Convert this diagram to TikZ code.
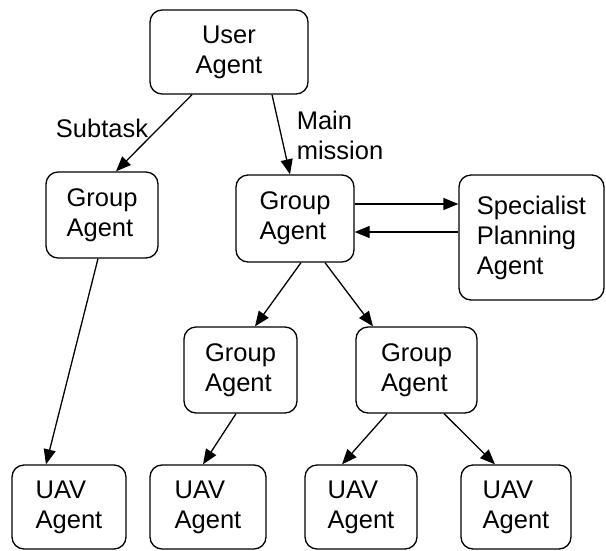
\documentclass[tikz,border=0pt]{standalone}
\usepackage{fontspec}
\setmainfont{Liberation Sans}
\usetikzlibrary{arrows.meta}
\begin{document}
\begin{tikzpicture}[x=1pt,y=-1pt,
  font=\fontsize{25.5pt}{30pt}\selectfont,
  agent/.style={draw,line width=1.3pt,rounded corners=12pt,inner sep=0pt,align=left},
  centred/.style={agent,align=center},
  link/.style={line width=1.3pt,-{Triangle[length=15pt,width=12pt]}},
  lbl/.style={inner sep=0pt}]
\useasboundingbox (0,0) rectangle (606,550);

% top level
\node[centred,minimum width=158pt,minimum height=84pt] (user) at (229,52) {User\\Agent};

% second level
\node[agent,minimum width=112pt,minimum height=86pt] (g1) at (102,215) {Group\\Agent};
\node[agent,minimum width=118pt,minimum height=87pt] (gm) at (295,218.5) {Group\\Agent};
\node[agent,minimum width=145pt,minimum height=125pt] (sp) at (531.5,237.5) {Specialist\\Planning\\Agent};

% third level
\node[agent,minimum width=113pt,minimum height=86pt] (gl) at (240.5,370) {Group\\Agent};
\node[agent,minimum width=121pt,minimum height=86pt] (gr) at (416.5,370) {Group\\Agent};

% UAV agents
\node[agent,minimum width=114pt,minimum height=84pt] (u1) at (69,507) {UAV\\Agent};
\node[agent,minimum width=116pt,minimum height=84pt] (u2) at (208,507) {UAV\\Agent};
\node[agent,minimum width=112pt,minimum height=84pt] (u3) at (361,507) {UAV\\Agent};
\node[agent,minimum width=110pt,minimum height=84pt] (u4) at (516,507) {UAV\\Agent};

% labels
\node[lbl] (subtask) at (102,128) {Subtask};
\node[lbl,align=left] (mainm) at (340,135) {Main\\mission};

% connectors (shifts are in page direction: positive yshift is upward)
\draw[link] ([xshift=-37pt]user.south) -- ([xshift=14pt]g1.north);
\draw[link] ([xshift=43pt]user.south) -- ([xshift=-5pt]gm.north);
\draw[link] ([yshift=14.5pt]gm.east) -- ([yshift=14.5pt]gm.east -| sp.west);
\draw[link] ([yshift=-13.5pt]gm.east -| sp.west) -- ([yshift=-13.5pt]gm.east);
\draw[link] ([xshift=6pt]gm.south) -- ([xshift=14.5pt]gl.north);
\draw[link] ([xshift=30pt]gm.south) -- ([xshift=-43.5pt]gr.north);
\draw[link] ([xshift=-4pt]g1.south) -- ([xshift=-23pt]u1.north);
\draw[link] ([xshift=-4.5pt]gl.south) -- ([xshift=-5pt]u2.north);
\draw[link] ([xshift=-29.5pt]gr.south) -- ([xshift=-19pt]u3.north);
\draw[link] ([xshift=27.5pt]gr.south) -- ([xshift=-21pt]u4.north);
\end{tikzpicture}
\end{document}
